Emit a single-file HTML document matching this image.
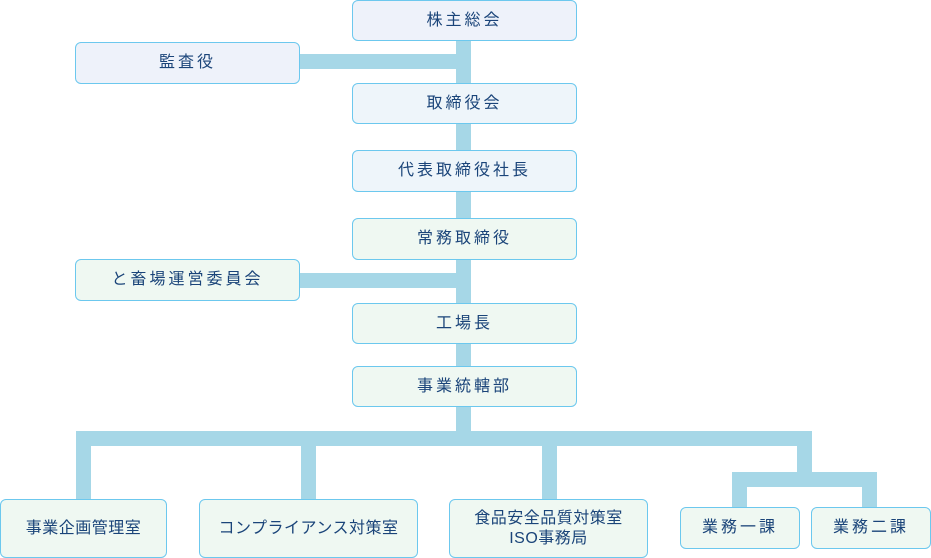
<!DOCTYPE html>
<html><head><meta charset="utf-8"><style>
body{margin:0;width:931px;height:558px;position:relative;background:#fff;overflow:hidden;font-family:"Liberation Sans","Noto Sans CJK JP",sans-serif}
.b{position:absolute;box-sizing:border-box;border:1px solid #6cc8ee;border-radius:6px;display:flex;align-items:center;justify-content:center;text-align:center;color:#1a4479;font-size:16px;letter-spacing:3px;line-height:20px}
.l{position:absolute;background:#a6d7e7}
.g{background:#eff8f2}
.bl{background:#eef2fa}
.bl2{background:#eef5fa}
.n{letter-spacing:0.5px}
</style></head><body>
<div class="l" style="left:456px;top:40px;width:15px;height:330px"></div>
<div class="l" style="left:299px;top:54px;width:170px;height:15px"></div>
<div class="l" style="left:291px;top:273px;width:170px;height:15px"></div>
<div class="l" style="left:456px;top:400px;width:15px;height:40px"></div>
<div class="l" style="left:76px;top:431px;width:736px;height:15px"></div>
<div class="l" style="left:76px;top:431px;width:15px;height:70px"></div>
<div class="l" style="left:301px;top:431px;width:15px;height:70px"></div>
<div class="l" style="left:542px;top:431px;width:15px;height:70px"></div>
<div class="l" style="left:797px;top:431px;width:15px;height:56px"></div>
<div class="l" style="left:732px;top:472px;width:145px;height:15px"></div>
<div class="l" style="left:732px;top:472px;width:15px;height:37px"></div>
<div class="l" style="left:862px;top:472px;width:15px;height:37px"></div>

<div class="b bl" style="left:352px;top:0;width:225px;height:41px">株主総会</div>
<div class="b bl" style="left:75px;top:42px;width:225px;height:42px">監査役</div>
<div class="b bl2" style="left:352px;top:83px;width:225px;height:41px">取締役会</div>
<div class="b bl2" style="left:352px;top:150px;width:225px;height:42px">代表取締役社長</div>
<div class="b g" style="left:352px;top:218px;width:225px;height:42px">常務取締役</div>
<div class="b g" style="left:75px;top:259px;width:225px;height:42px">と畜場運営委員会</div>
<div class="b g" style="left:352px;top:303px;width:225px;height:41px">工場長</div>
<div class="b g" style="left:352px;top:366px;width:225px;height:41px">事業統轄部</div>
<div class="b g n" style="left:0;top:499px;width:167px;height:59px">事業企画管理室</div>
<div class="b g n" style="left:199px;top:499px;width:219px;height:59px">コンプライアンス対策室</div>
<div class="b g n" style="left:449px;top:499px;width:199px;height:59px">食品安全品質対策室<br>ISO事務局</div>
<div class="b g" style="left:680px;top:507px;width:120px;height:42px">業務一課</div>
<div class="b g" style="left:811px;top:507px;width:120px;height:42px">業務二課</div>
</body></html>
